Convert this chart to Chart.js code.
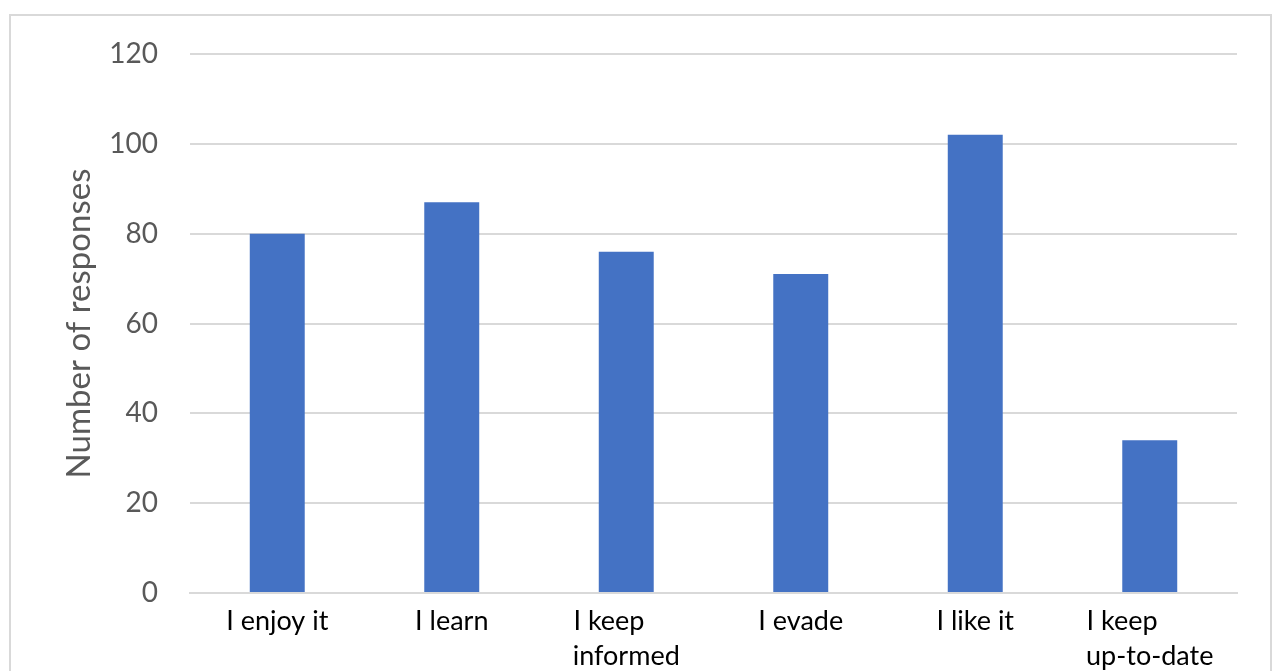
<!DOCTYPE html>
<html>
<head>
<meta charset="utf-8">
<script src="https://cdn.jsdelivr.net/npm/chart.js@4.4.1/dist/chart.umd.min.js"></script>
<style>
  html, body { margin: 0; padding: 0; background: #fff; overflow: hidden; width: 1275px; height: 671px; }
  #frame { position: absolute; left: 9px; top: 14px; width: 1259px; height: 700px; border: 2px solid #d9d9d9; overflow: hidden; }
  #wrap { position: relative; width: 1259px; height: 700px; }
</style>
</head>
<body>
<div id="frame"><div id="wrap"><canvas id="c"></canvas></div></div>
<script>
const categories = [["I enjoy it"], ["I learn"], ["I keep", "informed"], ["I evade"], ["I like it"], ["I keep", "up-to-date"]];
const responses = [80, 87, 76, 71, 102, 34];
const yTicks = [0, 20, 40, 60, 80, 100, 120];
const yTitle = "Number of responses";

const FONT = "Lato, 'Open Sans', sans-serif";
const xFontSize = 27;

// left-align lines of multi-line labels by padding shorter lines with spaces
const mctx = document.createElement('canvas').getContext('2d');
mctx.font = xFontSize + 'px ' + FONT;
function padLines(lines) {
  if (lines.length < 2) return lines;
  const w = Math.max(...lines.map(l => mctx.measureText(l).width));
  return lines.map(l => { let s = l; while (mctx.measureText(s + ' ').width <= w) s += ' '; return s; });
}

const labels = categories.map(padLines);

new Chart(document.getElementById('c'), {
  type: 'bar',
  data: {
    labels: labels,
    datasets: [{
      data: responses,
      backgroundColor: '#4472C4',
      borderWidth: 0,
      categoryPercentage: 1.0,
      barPercentage: 0.315
    }]
  },
  options: {
    responsive: true,
    maintainAspectRatio: false,
    animation: false,
    layout: { padding: { top: 38, right: 33, left: 0, bottom: 0 } },
    plugins: { legend: { display: false }, tooltip: { enabled: false } },
    scales: {
      x: {
        grid: { display: false, drawTicks: false },
        border: { display: true, color: '#d9d9d9', width: 2 },
        ticks: {
          color: '#000000',
          font: { family: FONT, size: xFontSize, lineHeight: 1.3 },
          padding: 11,
          maxRotation: 0,
          autoSkip: false
        },
        afterFit: s => { s.height = 123; }
      },
      y: {
        min: 0, max: 120,
        afterBuildTicks: s => { s.ticks = yTicks.map(v => ({ value: v })); },
        grid: { color: '#d9d9d9', lineWidth: 2, drawTicks: false },
        border: { display: false },
        ticks: {
          color: '#595959',
          font: { family: FONT, size: 28 },
          padding: 32
        },
        title: {
          display: true,
          text: yTitle,
          color: '#595959',
          font: { family: FONT, size: 33, lineHeight: 1.2 },
          padding: { top: 49, bottom: 0 }
        },
        afterFit: s => { s.width = 179; s.paddingTop = 0; s.paddingBottom = 0; }
      }
    }
  }
});
</script>
</body>
</html>
